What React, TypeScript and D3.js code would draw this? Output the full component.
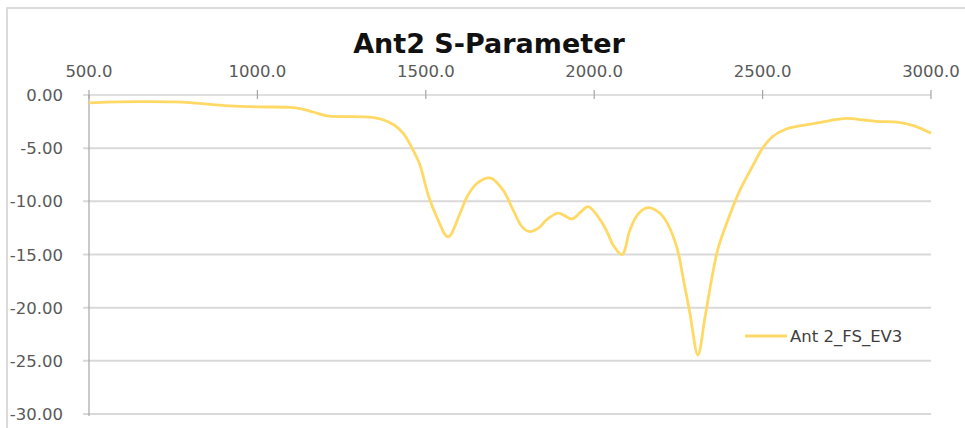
import React from "react";
import * as d3 from "d3";

const freqs = [500, 550, 650, 750, 800, 860, 920, 1000, 1097, 1130, 1165, 1207, 1260, 1314, 1345, 1375, 1405, 1432, 1462, 1483, 1507, 1533, 1566, 1602, 1622, 1652, 1691, 1729, 1759, 1786, 1809, 1835, 1860, 1893, 1934, 1960, 1982, 2017, 2040, 2056, 2083, 2106, 2130, 2160, 2190, 2216, 2246, 2264, 2284, 2308, 2329, 2350, 2368, 2394, 2433, 2470, 2500, 2530, 2570, 2610, 2650, 2700, 2750, 2800, 2850, 2900, 2950, 3000];
const sParam = [-0.75, -0.67, -0.63, -0.65, -0.72, -0.88, -1.03, -1.12, -1.16, -1.3, -1.6, -1.97, -2.03, -2.05, -2.12, -2.35, -2.8, -3.57, -5.17, -6.6, -9.4, -11.5, -13.35, -11.1, -9.59, -8.3, -7.8, -8.93, -10.8, -12.4, -12.85, -12.5, -11.7, -11.1, -11.65, -11.0, -10.5, -11.7, -13.0, -14.1, -15.0, -12.7, -11.2, -10.6, -11.0, -12.0, -14.4, -17.2, -20.5, -24.45, -20.9, -17.1, -14.4, -12.0, -8.93, -6.7, -5.0, -3.9, -3.2, -2.9, -2.7, -2.4, -2.2, -2.35, -2.5, -2.55, -2.9, -3.6];
const xTicks = [500, 1000, 1500, 2000, 2500, 3000];
const yTicks = [0, -5, -10, -15, -20, -25, -30];
const title = "Ant2 S-Parameter";
const seriesName = "Ant 2_FS_EV3";

export default function App() {
  const W = 965, H = 428;
  const x = d3.scaleLinear().domain([500, 3000]).range([89, 931]);
  const y = d3.scaleLinear().domain([0, -30]).range([95, 414]);
  const pts = freqs.map((f, i) => [f, sParam[i]] as [number, number]);
  const line = d3
    .line<[number, number]>()
    .x((d) => x(d[0]))
    .y((d) => y(d[1]))
    .curve(d3.curveCatmullRom.alpha(0.5));
  const font = "'DejaVu Sans', sans-serif";
  return (
    <svg
      width={W}
      height={H}
      style={{ position: "absolute", left: 0, top: 0, background: "#fff" }}
    >
      <rect x={7} y={8} width={970} height={430} fill="#fff" stroke="#d0d0d0" strokeWidth={1.5} />
      <text x={489} y={53} textAnchor="middle" fontFamily={font} fontWeight="bold" fontSize={27} fill="#111">
        {title}
      </text>
      {yTicks.map((t) => (
        <g key={t}>
          <line x1={83} x2={931} y1={y(t)} y2={y(t)} stroke={t === 0 ? "#bfbfbf" : "#d9d9d9"} strokeWidth={t === 0 ? 1.2 : 2} />
          <text x={63} y={y(t) + 6} textAnchor="end" fontFamily={font} fontSize={16.5} fill="#595959">
            {t.toFixed(2)}
          </text>
        </g>
      ))}
      <line x1={89} x2={89} y1={95} y2={416} stroke="#a6a6a6" strokeWidth={1.2} />
      {xTicks.map((t) => (
        <g key={t}>
          <line x1={x(t)} x2={x(t)} y1={90} y2={99} stroke="#a6a6a6" strokeWidth={1.2} />
          <text x={x(t)} y={77} textAnchor="middle" fontFamily={font} fontSize={16.5} fill="#595959">
            {t.toFixed(1)}
          </text>
        </g>
      ))}
      <path d={line(pts) || ""} fill="none" stroke="#FFD966" strokeWidth={2.8} strokeLinejoin="round" />
      <line x1={745} x2={787} y1={336} y2={336} stroke="#FFD966" strokeWidth={2.8} />
      <text x={790} y={342} fontFamily={font} fontSize={16.5} fill="#404040">
        {seriesName}
      </text>
    </svg>
  );
}
